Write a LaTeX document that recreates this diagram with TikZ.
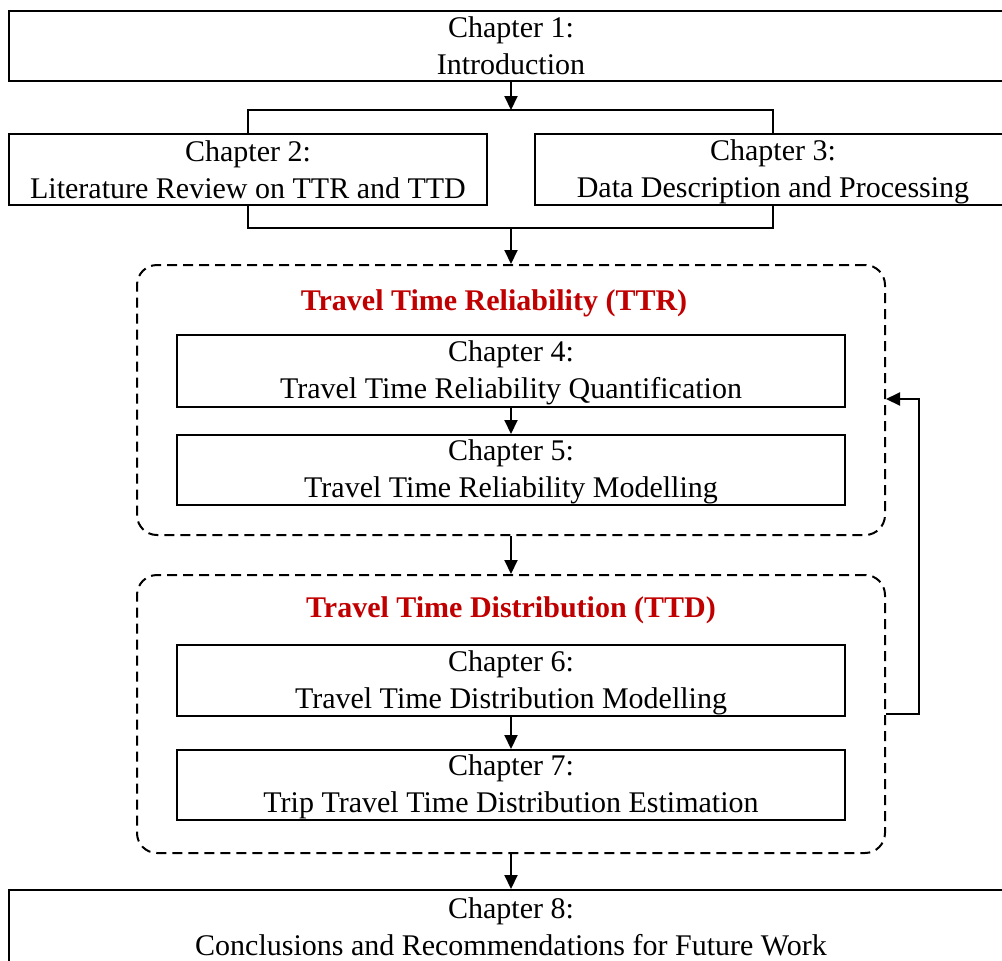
\documentclass[tikz,border=0pt]{standalone}
\usepackage{fontspec}
\setmainfont{Liberation Serif}
\usetikzlibrary{arrows.meta}
\definecolor{titlered}{RGB}{192,0,0}
% uniform line height inside the chapter boxes
\newcommand\lnstrut{\rule[-2.5pt]{0pt}{15pt}}
\newcommand\lastlnstrut{\rule[-4pt]{0pt}{15pt}}
\begin{document}
\begin{tikzpicture}[x=0.5pt,y=-0.5pt,
  chbox/.style={draw, line width=1pt, align=center, inner sep=0pt,
    font=\fontsize{15}{18.5}\selectfont},
  grp/.style={draw, line width=1pt, dash pattern=on 5pt off 3pt,
    rounded corners=10pt, inner sep=0pt},
  grptitle/.style={text=titlered, font=\bfseries\fontsize{15}{18.5}\selectfont},
  flow/.style={line width=1pt, -{Triangle[length=7pt,width=6.5pt]}},
  link/.style={line width=1pt}]
\useasboundingbox (0,0) rectangle (1002,960);

% chapter boxes
\node[chbox, minimum width=502pt, minimum height=35pt] (ch1) at (511,46)
  {\lnstrut Chapter 1:\\\lnstrut Introduction};
\node[chbox, minimum width=239pt, minimum height=35.5pt] (ch2) at (248,169.5)
  {\lnstrut Chapter 2:\\\lnstrut Literature Review on TTR and TTD};
\node[chbox, minimum width=238pt, minimum height=35.5pt] (ch3) at (773,169.5)
  {\lnstrut Chapter 3:\\\lnstrut Data Description and Processing};

% TTR group
\node[grp, minimum width=374pt, minimum height=135pt] (ttr) at (511,400) {};
\node[grptitle] (ttrtitle) at (494,303) {Travel Time Reliability (TTR)};
\node[chbox, minimum width=334pt, minimum height=36pt] (ch4) at (511,371)
  {\lnstrut Chapter 4:\\\lnstrut Travel Time Reliability Quantification};
\node[chbox, minimum width=334pt, minimum height=35pt] (ch5) at (511,470)
  {\lnstrut Chapter 5:\\\lnstrut Travel Time Reliability Modelling};

% TTD group
\node[grp, minimum width=374pt, minimum height=139pt] (ttd) at (511,714) {};
\node[grptitle] (ttdtitle) at (511,610) {Travel Time Distribution (TTD)};
\node[chbox, minimum width=334pt, minimum height=35.5pt] (ch6) at (511,680.5)
  {\lnstrut Chapter 6:\\\lnstrut Travel Time Distribution Modelling};
\node[chbox, minimum width=334pt, minimum height=35pt] (ch7) at (511,785)
  {\lnstrut Chapter 7:\\\lnstrut Trip Travel Time Distribution Estimation};

\node[chbox, minimum width=502pt, minimum height=38.5pt] (ch8) at (511,928.5)
  {\lnstrut Chapter 8:\\\lastlnstrut Conclusions and Recommendations for Future Work};

% branching brackets around chapters 2 and 3
\coordinate (splittop) at (511,110);
\coordinate (joinbot) at (511,228);
\draw[link] (ch2.north) |- (splittop) -| (ch3.north);
\draw[link] (ch2.south) |- (joinbot) -| (ch3.south);

% main flow
\draw[flow] (ch1.south) -- (splittop);
\draw[flow] (joinbot) -- (ttr.north);
\draw[flow] (ch4.south) -- (ch5.north);
\draw[flow] (ttr.south) -- (ttd.north);
\draw[flow] (ch6.south) -- (ch7.north);
\draw[flow] (ttd.south) -- (ch8.north);

% feedback from TTD to TTR
\draw[flow] (ttd.east) -- ++(33,0) |- (ttr.east |- 0,399);
\end{tikzpicture}
\end{document}
